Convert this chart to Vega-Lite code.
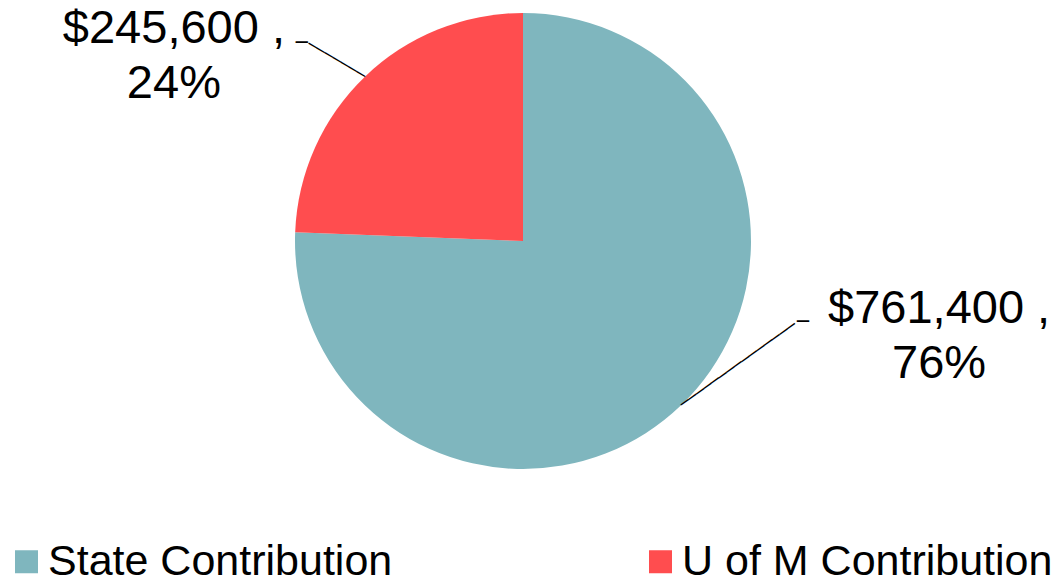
{
  "$schema": "https://vega.github.io/schema/vega-lite/v6.json",
  "width": 1046,
  "height": 482,
  "autosize": {"type": "none"},
  "padding": {"left": 0, "top": 0, "right": 18, "bottom": 95},
  "background": "white",
  "config": {"view": {"stroke": null}, "font": "Liberation Sans"},
  "data": {
    "values": [
      {"category": "State Contribution", "value": 761400},
      {"category": "U of M Contribution", "value": 245600}
    ]
  },
  "transform": [
    {"joinaggregate": [{"op": "sum", "field": "value", "as": "total"}]},
    {"calculate": "['$' + format(datum.value, ',') + ' ,', format(datum.value / datum.total, '.0%')]", "as": "label"}
  ],
  "encoding": {
    "theta": {"field": "value", "type": "quantitative", "stack": true},
    "order": {"field": "category", "sort": "ascending"}
  },
  "layer": [
    {
      "mark": {"type": "arc", "outerRadius": 228},
      "encoding": {
        "color": {
          "field": "category",
          "type": "nominal",
          "scale": {"domain": ["State Contribution", "U of M Contribution"], "range": ["#7FB6BE", "#FF4D4F"]},
          "legend": {
            "title": null,
            "orient": "none",
            "legendX": 5,
            "legendY": 540,
            "direction": "horizontal",
            "padding": 0,
            "symbolType": "square",
            "symbolSize": 529,
            "symbolStrokeWidth": 0,
            "symbolOpacity": 1,
            "labelFont": "Liberation Sans",
            "labelFontSize": 43,
            "labelColor": "black",
            "labelOffset": 0,
            "labelLimit": 0,
            "columnPadding": 246
          }
        }
      }
    },
    {
      "mark": {"type": "text", "radius": 228, "font": "Liberation Sans", "fontSize": 47, "lineHeight": 55, "align": "center", "baseline": "alphabetic", "dx": 258, "dy": -82, "color": "black"},
      "encoding": {
        "detail": {"field": "category"},
        "text": {"condition": {"test": "datum.category === 'State Contribution'", "field": "label"}, "value": ""}
      }
    },
    {
      "mark": {"type": "text", "radius": 228, "font": "Liberation Sans", "fontSize": 47, "lineHeight": 55, "align": "center", "baseline": "alphabetic", "dx": -191, "dy": -34, "color": "black"},
      "encoding": {
        "detail": {"field": "category"},
        "text": {"condition": {"test": "datum.category === 'U of M Contribution'", "field": "label"}, "value": ""}
      }
    },
    {
      "mark": {"type": "text", "radius": 228, "font": "DejaVu Sans Mono", "fontSize": 15.5, "align": "left", "baseline": "middle", "angle": 324.4, "color": "black"},
      "encoding": {
        "detail": {"field": "category"},
        "text": {"condition": {"test": "datum.category === 'State Contribution'", "value": "───────────────"}, "value": ""}
      }
    },
    {
      "mark": {"type": "text", "radius": 228, "font": "DejaVu Sans Mono", "fontSize": 20, "align": "left", "baseline": "middle", "dx": 116, "dy": -83, "color": "black"},
      "encoding": {
        "detail": {"field": "category"},
        "text": {"condition": {"test": "datum.category === 'State Contribution'", "value": "─"}, "value": ""}
      }
    },
    {
      "mark": {"type": "text", "radius": 228, "font": "DejaVu Sans Mono", "fontSize": 15.5, "align": "right", "baseline": "middle", "angle": 30.5, "color": "black"},
      "encoding": {
        "detail": {"field": "category"},
        "text": {"condition": {"test": "datum.category === 'U of M Contribution'", "value": "───────"}, "value": ""}
      }
    },
    {
      "mark": {"type": "text", "radius": 228, "font": "DejaVu Sans Mono", "fontSize": 20, "align": "right", "baseline": "middle", "dx": -57, "dy": -34, "color": "black"},
      "encoding": {
        "detail": {"field": "category"},
        "text": {"condition": {"test": "datum.category === 'U of M Contribution'", "value": "─"}, "value": ""}
      }
    }
  ]
}
